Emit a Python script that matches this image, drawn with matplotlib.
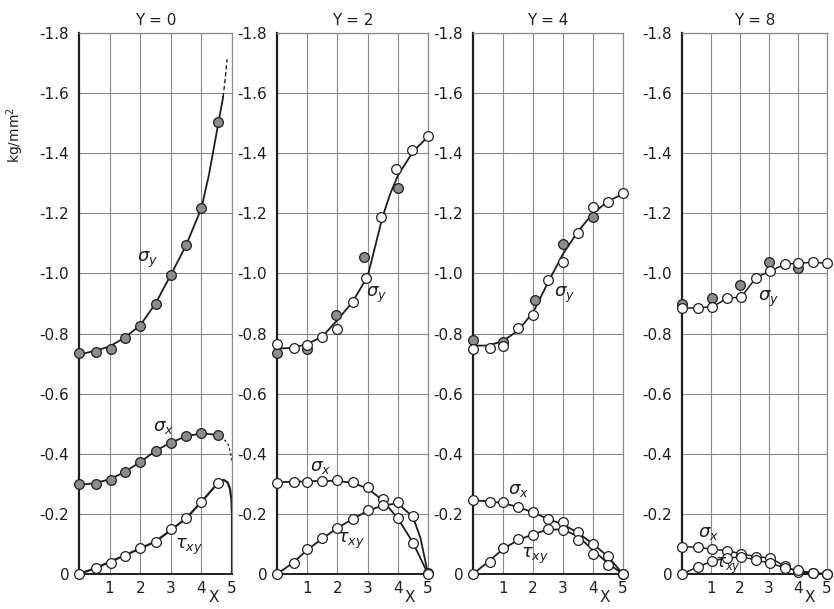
import matplotlib.pyplot as plt

# Stress distributions along X at four sections (kg/mm^2, compression negative).
# Points: measured; lines: calculated curves.

# ---- Y = 0 ----
y0_x = [0, 0.55, 1.05, 1.5, 2.0, 2.5, 3.0, 3.5, 4.0, 4.55]
y0_sy = [-0.735, -0.74, -0.75, -0.785, -0.825, -0.898, -0.995, -1.094, -1.217, -1.504]
y0_sx = [-0.30, -0.30, -0.313, -0.34, -0.374, -0.41, -0.437, -0.459, -0.47, -0.462]
y0_txy = [0, -0.02, -0.038, -0.06, -0.085, -0.107, -0.149, -0.185, -0.24, -0.302]

y0_sy_cx = [0, 0.5, 1, 1.5, 2, 2.5, 3, 3.5, 4, 4.25, 4.5, 4.71]
y0_sy_c = [-0.73, -0.742, -0.757, -0.787, -0.827, -0.9, -0.995, -1.094, -1.217, -1.33, -1.47, -1.587]
y0_sy_dx = [4.71, 4.78, 4.84]
y0_sy_d = [-1.587, -1.65, -1.713]
y0_sx_cx = [0, 0.5, 1, 1.5, 2, 2.5, 3, 3.5, 4, 4.5, 4.62]
y0_sx_c = [-0.296, -0.302, -0.315, -0.34, -0.372, -0.41, -0.437, -0.458, -0.468, -0.463, -0.456]
y0_sx_dx = [4.62, 4.75, 4.88, 4.96, 5.0]
y0_sx_d = [-0.456, -0.447, -0.43, -0.40, -0.37]
y0_txy_cx = [0, 0.5, 1, 1.5, 2, 2.5, 3, 3.5, 4, 4.5, 4.62, 4.73, 4.85, 4.93, 4.98, 5.0, 5.0]
y0_txy_c = [0, -0.018, -0.04, -0.062, -0.085, -0.108, -0.146, -0.185, -0.24, -0.298, -0.308,
            -0.313, -0.305, -0.285, -0.25, -0.2, 0]

# ---- Y = 2 ----
y2_x = [0, 0.55, 1.0, 1.5, 2.0, 2.5, 3.0, 3.5, 4.0, 4.5, 5.0]
y2_sy_open = [-0.764, -0.753, -0.762, -0.787, -0.815, -0.905, -0.984, -1.189, -1.347, -1.41, -1.457]
y2_sy_open_x = [0, 0.55, 1.0, 1.5, 2.0, 2.5, 2.96, 3.46, 3.93, 4.48, 5.0]
y2_sy_fill_x = [0, 1.0, 1.95, 2.88, 4.01]
y2_sy_fill = [-0.734, -0.748, -0.863, -1.056, -1.283]
y2_sx = [-0.304, -0.307, -0.307, -0.309, -0.313, -0.305, -0.288, -0.248, -0.185, -0.104, -0.004]
y2_txy = [0, -0.036, -0.082, -0.119, -0.154, -0.183, -0.213, -0.23, -0.238, -0.193, 0]

y2_cx = [0, 0.5, 1, 1.5, 2, 2.5, 3, 3.25, 3.5, 3.75, 4, 4.5, 5]
y2_sy_c = [-0.75, -0.752, -0.765, -0.79, -0.845, -0.905, -0.99, -1.09, -1.19, -1.265, -1.325,
           -1.405, -1.455]
y2_sx_cx = [0, 0.5, 1, 1.5, 2, 2.5, 3, 3.5, 4, 4.5, 5]
y2_sx_c = [-0.305, -0.307, -0.308, -0.31, -0.31, -0.303, -0.285, -0.245, -0.185, -0.105, 0]
y2_txy_cx = [0, 0.5, 1, 1.5, 2, 2.5, 3, 3.5, 4, 4.5, 4.75, 5]
y2_txy_c = [0, -0.035, -0.08, -0.118, -0.153, -0.183, -0.21, -0.228, -0.235, -0.19, -0.12, 0]

# ---- Y = 4 ----
y4_x = [0, 0.55, 1.0, 1.5, 2.0, 2.5, 3.0, 3.5, 4.0, 4.5, 5.0]
y4_sy_open = [-0.748, -0.753, -0.758, -0.817, -0.862, -0.978, -1.039, -1.136, -1.22, -1.239, -1.266]
y4_sy_fill_x = [0, 1.0, 2.05, 3.0, 4.0]
y4_sy_fill = [-0.778, -0.773, -0.91, -1.097, -1.187]
y4_sx = [-0.246, -0.241, -0.238, -0.222, -0.205, -0.183, -0.172, -0.139, -0.10, -0.061, 0]
y4_txy = [0, -0.041, -0.085, -0.115, -0.13, -0.149, -0.146, -0.113, -0.067, -0.03, 0]

y4_cx = [0, 0.5, 1, 1.5, 2, 2.5, 3, 3.5, 4, 4.5, 5]
y4_sy_c = [-0.76, -0.76, -0.775, -0.81, -0.87, -0.97, -1.065, -1.14, -1.2, -1.24, -1.265]
y4_sx_c = [-0.245, -0.242, -0.236, -0.223, -0.205, -0.183, -0.165, -0.137, -0.10, -0.058, 0]
y4_txy_c = [0, -0.04, -0.083, -0.113, -0.132, -0.148, -0.148, -0.125, -0.08, -0.035, 0]

# ---- Y = 8 ----
y8_x = [0, 0.55, 1.05, 1.55, 2.05, 2.55, 3.05, 3.55, 4.0, 4.5, 5.0]
y8_sy_open = [-0.884, -0.886, -0.889, -0.917, -0.922, -0.986, -1.008, -1.031, -1.034, -1.037, -1.034]
y8_sy_fill_x = [0, 1.05, 2.0, 3.0, 4.0]
y8_sy_fill = [-0.90, -0.917, -0.961, -1.037, -1.017]
y8_sx = [-0.091, -0.089, -0.082, -0.078, -0.067, -0.058, -0.053, -0.026, -0.006, -0.004, 0]
y8_txy = [0, -0.024, -0.043, -0.053, -0.057, -0.047, -0.035, -0.021, -0.012, -0.004, 0]

titles = ["Y = 0", "Y = 2", "Y = 4", "Y = 8"]
ytick_vals = [0, -0.2, -0.4, -0.6, -0.8, -1.0, -1.2, -1.4, -1.6, -1.8]
ytick_text = ["0", "-0.2", "-0.4", "-0.6", "-0.8", "-1.0", "-1.2", "-1.4", "-1.6", "-1.8"]
xtick_vals = [1, 2, 3, 4, 5]

INK = "#1e1e1e"
GRID = "#8a8a8a"
FILL = "#8c8c8c"

fig = plt.figure(figsize=(8.34, 6.09), dpi=100)

# panel boxes in pixels: left, width
panel_px = [(79, 153), (277, 151), (473, 150), (682, 145)]
bottom = 35 / 609
height = 541 / 609
axes = [fig.add_axes([l / 834, bottom, w / 834, height]) for l, w in panel_px]


def style_axes(ax, title):
    ax.set_xlim(0, 5)
    ax.set_ylim(0, -1.8)
    ax.set_yticks(ytick_vals)
    ax.set_yticklabels(ytick_text)
    ax.set_xticks(xtick_vals)
    ax.set_xticklabels([str(v) for v in xtick_vals])
    ax.tick_params(length=0, labelsize=11, colors=INK)
    ax.tick_params(axis="y", pad=7)
    ax.tick_params(axis="x", pad=5)
    ax.grid(True, color=GRID, lw=0.8)
    ax.set_axisbelow(True)
    for side in ["top", "right"]:
        ax.spines[side].set_color(GRID)
        ax.spines[side].set_linewidth(0.9)
    ax.spines["left"].set_color(INK)
    ax.spines["left"].set_linewidth(1.6)
    ax.spines["bottom"].set_color(INK)
    ax.spines["bottom"].set_linewidth(1.4)
    ax.set_title(title, fontsize=11, color=INK, pad=6)
    ax.text(4.4, -0.043, "X", transform=ax.get_xaxis_transform(),
            ha="center", va="center", fontsize=11, color=INK)


def curve(ax, x, y, ls="-", lw=1.3):
    ax.plot(x, y, ls=ls, color=INK, lw=lw, zorder=2)


def points(ax, x, y, filled=False):
    ax.plot(x, y, ls="none", marker="o", ms=7, mew=0.9, mec=INK,
            mfc=FILL if filled else "white", zorder=3, clip_on=False)


for ax, t in zip(axes, titles):
    style_axes(ax, t)

# Y = 0
ax = axes[0]
curve(ax, y0_sy_cx, y0_sy_c)
curve(ax, y0_sy_dx, y0_sy_d, ls=(0, (3, 2)), lw=1.0)
curve(ax, y0_sx_cx, y0_sx_c)
curve(ax, y0_sx_dx, y0_sx_d, ls=(0, (2, 2)), lw=0.9)
curve(ax, y0_txy_cx, y0_txy_c, lw=1.6)
points(ax, y0_x, y0_sy, filled=True)
points(ax, y0_x, y0_sx, filled=True)
points(ax, y0_x, y0_txy)
ax.text(2.25, -1.045, r"$\sigma_y$", fontsize=13, ha="center", va="center", color=INK)
ax.text(2.75, -0.49, r"$\sigma_x$", fontsize=13, ha="center", va="center", color=INK)
ax.text(3.6, -0.09, r"$\tau_{xy}$", fontsize=13, ha="center", va="center", color=INK)

# Y = 2
ax = axes[1]
curve(ax, y2_cx, y2_sy_c)
curve(ax, y2_sx_cx, y2_sx_c)
curve(ax, y2_txy_cx, y2_txy_c)
points(ax, y2_sy_fill_x, y2_sy_fill, filled=True)
points(ax, y2_sy_open_x, y2_sy_open)
points(ax, y2_x, y2_sx)
points(ax, y2_x, y2_txy)
ax.text(3.3, -0.93, r"$\sigma_y$", fontsize=13, ha="center", va="center", color=INK)
ax.text(1.45, -0.355, r"$\sigma_x$", fontsize=13, ha="center", va="center", color=INK)
ax.text(2.45, -0.11, r"$\tau_{xy}$", fontsize=13, ha="center", va="center", color=INK)

# Y = 4
ax = axes[2]
curve(ax, y4_cx, y4_sy_c)
curve(ax, y4_cx, y4_sx_c)
curve(ax, y4_cx, y4_txy_c)
points(ax, y4_sy_fill_x, y4_sy_fill, filled=True)
points(ax, y4_x, y4_sy_open)
points(ax, y4_x, y4_sx)
points(ax, y4_x, y4_txy)
ax.text(3.05, -0.93, r"$\sigma_y$", fontsize=13, ha="center", va="center", color=INK)
ax.text(1.5, -0.28, r"$\sigma_x$", fontsize=13, ha="center", va="center", color=INK)
ax.text(2.05, -0.06, r"$\tau_{xy}$", fontsize=13, ha="center", va="center", color=INK)

# Y = 8
ax = axes[3]
curve(ax, y8_x, y8_sy_open, lw=1.1)
curve(ax, y8_x, y8_sx, lw=1.1)
curve(ax, y8_x, y8_txy, lw=1.1)
points(ax, y8_sy_fill_x, y8_sy_fill, filled=True)
points(ax, y8_x, y8_sy_open)
points(ax, y8_x, y8_sx)
points(ax, y8_x, y8_txy)
ax.text(3.0, -0.915, r"$\sigma_y$", fontsize=13, ha="center", va="center", color=INK)
ax.text(0.9, -0.135, r"$\sigma_x$", fontsize=13, ha="center", va="center", color=INK)
ax.text(1.6, -0.028, r"$\tau_{xy}$", fontsize=12, ha="center", va="center", color=INK)

fig.text(15 / 834, 1 - 135 / 609, "kg/mm$^2$", rotation=90, fontsize=10,
         ha="center", va="center", color=INK)

fig.savefig("out.png", dpi=100)
